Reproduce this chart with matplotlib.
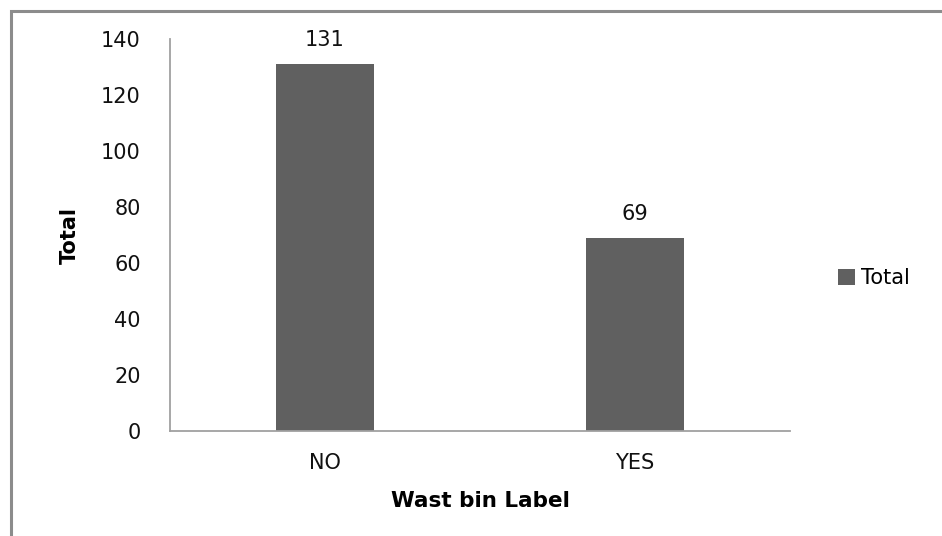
import matplotlib
matplotlib.use("Agg")
import matplotlib.pyplot as plt
from matplotlib.patches import Rectangle

categories = ["NO", "YES"]
values = [131, 69]
yticks = [0, 20, 40, 60, 80, 100, 120, 140]
series_name = "Total"

plt.rcParams['font.family'] = ['DejaVu Sans']

fig = plt.figure(figsize=(9.42, 5.36), dpi=100)
fig.patch.set_facecolor("white")

# outer chart border
fig.add_artist(Rectangle((10.5/942, -0.05), 1.0, 1 - 10.5/536 + 0.05,
                         transform=fig.transFigure, fill=False,
                         edgecolor="#8c8c8c", linewidth=2.2))

ax = fig.add_axes([170/942, (536-431)/536, 620/942, 392/536])
bar_color = "#606060"
x = range(len(categories))
bars = ax.bar(x, values, width=0.316, color=bar_color, label=series_name, zorder=2)
ax.set_xlim(-0.5, len(categories) - 0.5)
ax.set_ylim(0, 140)
ax.set_yticks(yticks)
ax.set_xticks(list(x))
ax.set_xticklabels(categories)

for s in ["top", "right"]:
    ax.spines[s].set_visible(False)
for s in ["left", "bottom"]:
    ax.spines[s].set_color("#a0a0a0")
    ax.spines[s].set_linewidth(1.3)

ax.tick_params(axis="y", length=0, pad=21, labelsize=15, labelcolor="#111111")
ax.tick_params(axis="x", length=0, pad=16, labelsize=15, labelcolor="#111111")

for xi, v in zip(x, values):
    ax.annotate(str(v), (xi, v), xytext=(0, 10), textcoords="offset points",
                ha="center", va="bottom", fontsize=15, color="#111111")

ax.set_ylabel("Total", fontsize=15, fontweight="bold", labelpad=15)
ax.set_xlabel("Wast bin Label", fontsize=15.5, fontweight="bold", labelpad=13)

leg = fig.legend(handles=[bars], labels=[series_name], loc="center left",
                 bbox_to_anchor=(838/942, (536-278)/536), frameon=False,
                 fontsize=15, handlelength=0.8, handleheight=0.8,
                 handletextpad=0.3, borderpad=0, borderaxespad=0)

fig.savefig("out.png", dpi=100)
